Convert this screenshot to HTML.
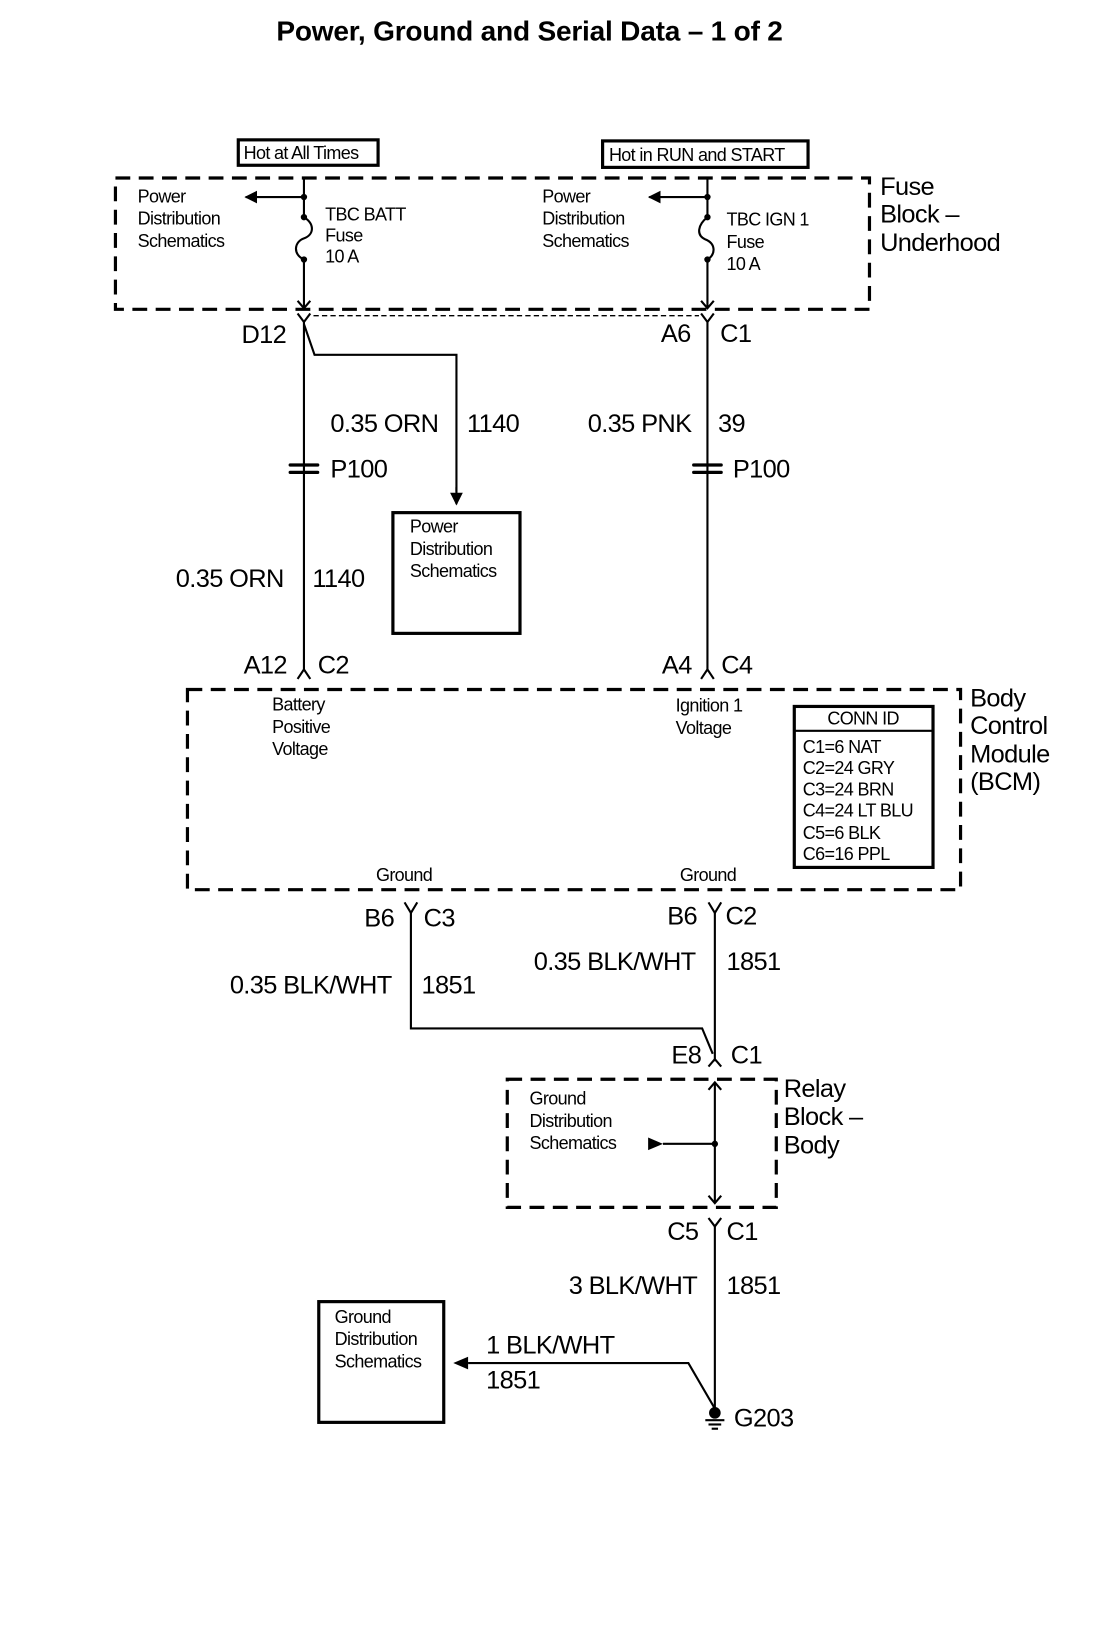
<!DOCTYPE html>
<html><head><meta charset="utf-8"><style>
html,body{margin:0;padding:0;background:#fff}
svg{display:block}
text{font-family:"Liberation Sans",Arial,sans-serif;fill:#000}
.s{font-size:17px;letter-spacing:-0.6px}
.m{font-size:24px;letter-spacing:-0.6px}
</style></head><body>
<svg width="1112" height="1648" viewBox="0 0 1050 1556" xmlns="http://www.w3.org/2000/svg">
<defs>
<marker id="fa" viewBox="0 0 10 10" refX="9" refY="5" markerWidth="12" markerHeight="12" markerUnits="userSpaceOnUse" orient="auto"><path d="M0,0 L10,5 L0,10 z" fill="#000"/></marker>
</defs>
<g stroke="#000" fill="none">
<text x="500" y="38" text-anchor="middle" style="font-size:26.5px;font-weight:bold;letter-spacing:-0.2px" stroke="none">Power, Ground and Serial Data – 1 of 2</text>

<rect x="225" y="132" width="132" height="24" stroke-width="3"/>
<rect x="569" y="133" width="194" height="25" stroke-width="3"/>
<rect x="109" y="168" width="712" height="124" stroke-width="3" stroke-dasharray="14 8"/>

<line x1="287" y1="168" x2="287" y2="205" stroke-width="2"/>
<line x1="287" y1="186" x2="232" y2="186" stroke-width="2" marker-end="url(#fa)"/>
<path d="M287,205 C298,212 296,222 287,225 C278,228 276,240 287,245" stroke-width="2"/>
<line x1="287" y1="245" x2="287" y2="291" stroke-width="2"/>
<path d="M281,284 L287,291 L293,284" stroke-width="2"/>
<circle cx="287" cy="186" r="2.5" fill="#000"/><circle cx="287" cy="205" r="2.5" fill="#000"/><circle cx="287" cy="245" r="2.5" fill="#000"/>
<line x1="668" y1="168" x2="668" y2="205" stroke-width="2"/>
<line x1="668" y1="186" x2="613" y2="186" stroke-width="2" marker-end="url(#fa)"/>
<path d="M668,205 C659,212 657,222 666,226 C676,230 676,240 668,245" stroke-width="2"/>
<line x1="668" y1="245" x2="668" y2="291" stroke-width="2"/>
<path d="M662,284 L668,291 L674,284" stroke-width="2"/>
<circle cx="668" cy="186" r="2.5" fill="#000"/><circle cx="668" cy="205" r="2.5" fill="#000"/><circle cx="668" cy="245" r="2.5" fill="#000"/>

<path d="M281,296 L287,304 L293,296" stroke-width="2"/>
<path d="M662,296 L668,304 L674,296" stroke-width="2"/>
<line x1="296" y1="298" x2="660" y2="298" stroke-width="1.3" stroke-dasharray="5 3"/>
<line x1="287" y1="304" x2="287" y2="632" stroke-width="2"/>
<path d="M287,306 L297,335 L431,335 L431,464" stroke-width="2"/>
<line x1="431" y1="460" x2="431" y2="476" stroke-width="2" marker-end="url(#fa)"/>
<line x1="668" y1="304" x2="668" y2="632" stroke-width="2"/>
<g stroke-width="3" stroke-linecap="round">
<line x1="274" y1="439" x2="300" y2="439"/><line x1="274" y1="446" x2="300" y2="446"/>
<line x1="655" y1="439" x2="681" y2="439"/><line x1="655" y1="446" x2="681" y2="446"/>
</g>
<rect x="371" y="484" width="120" height="114" stroke-width="3"/>
<path d="M281,641 L287,632 L293,641" stroke-width="2"/>
<path d="M662,641 L668,632 L674,641" stroke-width="2"/>

<rect x="177" y="651" width="730" height="189" stroke-width="3" stroke-dasharray="14 8"/>
<rect x="750" y="667" width="131" height="152" stroke-width="3"/>
<line x1="750" y1="690" x2="881" y2="690" stroke-width="2"/>

<path d="M382,852 L388,862 L394,852" stroke-width="2"/>
<path d="M669,852 L675,862 L681,852" stroke-width="2"/>
<path d="M388,862 L388,971 L663,971 L673,995" stroke-width="2"/>
<line x1="675" y1="862" x2="675" y2="1002" stroke-width="2"/>
<path d="M669,1007 L675,1000 L681,1007" stroke-width="2"/>

<rect x="479" y="1019" width="254" height="121" stroke-width="3" stroke-dasharray="14 8"/>
<line x1="675" y1="1022" x2="675" y2="1136" stroke-width="2"/>
<path d="M669,1029 L675,1022 L681,1029" stroke-width="2"/>
<path d="M669,1129 L675,1136 L681,1129" stroke-width="2"/>
<line x1="675" y1="1080" x2="626" y2="1080" stroke-width="2"/>
<path d="M612,1074 L626,1080 L612,1086 z" fill="#000" stroke="none"/>
<circle cx="675" cy="1080" r="2.5" fill="#000"/>

<path d="M669,1150 L675,1158 L681,1150" stroke-width="2"/>
<line x1="675" y1="1158" x2="675" y2="1333" stroke-width="2"/>
<circle cx="675" cy="1334" r="5" fill="#000"/>
<line x1="666" y1="1341" x2="684" y2="1341" stroke-width="2"/>
<line x1="669" y1="1345" x2="681" y2="1345" stroke-width="2"/>
<line x1="672" y1="1349" x2="678" y2="1349" stroke-width="2"/>
<path d="M675,1330 L650,1287 L442,1287" stroke-width="2"/>
<path d="M428,1287 L442,1281 L442,1293 z" fill="#000" stroke="none"/>
<rect x="301" y="1229" width="118" height="114" stroke-width="3"/>
</g>

<g>
<text class="s" x="230" y="150">Hot at All Times</text>
<text class="s" x="575" y="152">Hot in RUN and START</text>
<text class="m" x="831" y="184">Fuse</text><text class="m" x="831" y="210">Block –</text><text class="m" x="831" y="237">Underhood</text>
<text class="s" x="130" y="191">Power</text><text class="s" x="130" y="212">Distribution</text><text class="s" x="130" y="233">Schematics</text>
<text class="s" x="307" y="208">TBC BATT</text><text class="s" x="307" y="228">Fuse</text><text class="s" x="307" y="248">10 A</text>
<text class="s" x="512" y="191">Power</text><text class="s" x="512" y="212">Distribution</text><text class="s" x="512" y="233">Schematics</text>
<text class="s" x="686" y="213">TBC IGN 1</text><text class="s" x="686" y="234">Fuse</text><text class="s" x="686" y="255">10 A</text>
<text class="m" x="228" y="324">D12</text>
<text class="m" x="624" y="323">A6</text><text class="m" x="680" y="323">C1</text>
<text class="m" x="312" y="408">0.35 ORN</text><text class="m" x="441" y="408">1140</text>
<text class="m" x="555" y="408">0.35 PNK</text><text class="m" x="678" y="408">39</text>
<text class="m" x="312" y="451">P100</text><text class="m" x="692" y="451">P100</text>
<text class="s" x="387" y="503">Power</text><text class="s" x="387" y="524">Distribution</text><text class="s" x="387" y="545">Schematics</text>
<text class="m" x="166" y="554">0.35 ORN</text><text class="m" x="295" y="554">1140</text>
<text class="m" x="230" y="636">A12</text><text class="m" x="300" y="636">C2</text>
<text class="m" x="625" y="636">A4</text><text class="m" x="681" y="636">C4</text>
<text class="m" x="916" y="667">Body</text><text class="m" x="916" y="693">Control</text><text class="m" x="916" y="720">Module</text><text class="m" x="916" y="746">(BCM)</text>
<text class="s" x="257" y="671">Battery</text><text class="s" x="257" y="692">Positive</text><text class="s" x="257" y="713">Voltage</text>
<text class="s" x="638" y="672">Ignition 1</text><text class="s" x="638" y="693">Voltage</text>
<text class="s" x="815" y="684" text-anchor="middle">CONN ID</text>
<text class="s" x="758" y="711">C1=6 NAT</text><text class="s" x="758" y="731">C2=24 GRY</text><text class="s" x="758" y="751">C3=24 BRN</text>
<text class="s" x="758" y="771">C4=24 LT BLU</text><text class="s" x="758" y="792">C5=6 BLK</text><text class="s" x="758" y="812">C6=16 PPL</text>
<text class="s" x="355" y="832">Ground</text><text class="s" x="642" y="832">Ground</text>
<text class="m" x="344" y="875">B6</text><text class="m" x="400" y="875">C3</text>
<text class="m" x="630" y="873">B6</text><text class="m" x="685" y="873">C2</text>
<text class="m" x="504" y="916">0.35 BLK/WHT</text><text class="m" x="686" y="916">1851</text>
<text class="m" x="217" y="938">0.35 BLK/WHT</text><text class="m" x="398" y="938">1851</text>
<text class="m" x="634" y="1004">E8</text><text class="m" x="690" y="1004">C1</text>
<text class="m" x="740" y="1036">Relay</text><text class="m" x="740" y="1062">Block –</text><text class="m" x="740" y="1089">Body</text>
<text class="s" x="500" y="1043">Ground</text><text class="s" x="500" y="1064">Distribution</text><text class="s" x="500" y="1085">Schematics</text>
<text class="m" x="630" y="1171">C5</text><text class="m" x="686" y="1171">C1</text>
<text class="m" x="537" y="1222">3 BLK/WHT</text><text class="m" x="686" y="1222">1851</text>
<text class="s" x="316" y="1249">Ground</text><text class="s" x="316" y="1270">Distribution</text><text class="s" x="316" y="1291">Schematics</text>
<text class="m" x="459" y="1278">1 BLK/WHT</text><text class="m" x="459" y="1311">1851</text>
<text class="m" x="693" y="1347">G203</text>
</g>
</svg>
</body></html>
